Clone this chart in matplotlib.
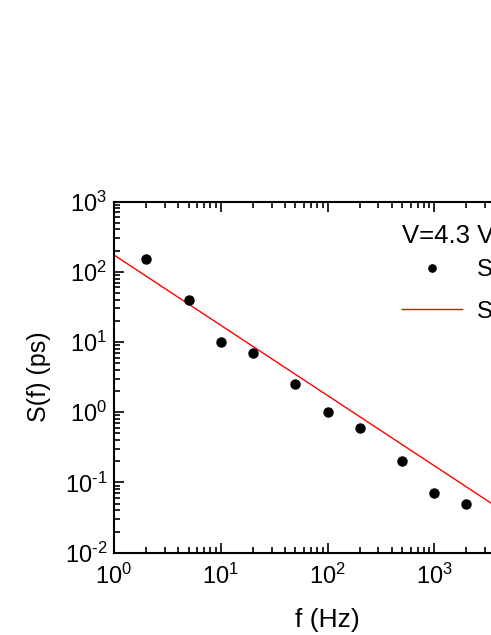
import matplotlib
matplotlib.use("Agg")
import matplotlib.pyplot as plt
import numpy as np
from matplotlib.ticker import LogLocator, NullFormatter, FixedLocator

plt.rcParams['font.family'] = ['Liberation Sans', 'DejaVu Sans']
plt.rcParams['mathtext.fontset'] = 'custom'
plt.rcParams['mathtext.rm'] = 'Liberation Sans'
plt.rcParams['mathtext.it'] = 'Liberation Sans:italic'

# data
freq = [2, 5, 10, 20, 50, 100, 200, 500, 1000, 2000]
spectrum = [150, 40, 10, 7.0, 2.5, 1.0, 0.6, 0.2, 0.07, 0.05]
fit_amp = 173.0
fit_exp = 1.0
fit_range = [1, 1e4]
xticks = [1, 10, 100, 1000, 10000]
xtick_labels = [r'$\mathregular{10^{0}}$', r'$\mathregular{10^{1}}$', r'$\mathregular{10^{2}}$',
                r'$\mathregular{10^{3}}$', r'$\mathregular{10^{4}}$']
yticks = [1e-2, 1e-1, 1, 10, 100, 1000]
ytick_labels = [r'$\mathregular{10^{\text{-}2}}$', r'$\mathregular{10^{\text{-}1}}$', r'$\mathregular{10^{0}}$',
                r'$\mathregular{10^{1}}$', r'$\mathregular{10^{2}}$', r'$\mathregular{10^{3}}$']
legend_title = 'V=4.3 V'
label_data = 'S(f) exp.'
label_fit = r'S(f) ~ 1/f'

fig = plt.figure(figsize=(4.91, 6.35), dpi=100)
ax = fig.add_axes([114/491, 82.3/635, 427/491, 351.2/635])

fx = np.logspace(np.log10(fit_range[0]), np.log10(fit_range[1]), 50)
fy = fit_amp / fx**fit_exp

ax.plot(freq, spectrum, 'o', color='black', markersize=6.5, label=label_data, zorder=3)
ax.plot(fx, fy, '-', color='red', linewidth=1.0, label=label_fit, zorder=2)

ax.set_xscale('log')
ax.set_yscale('log')
ax.set_xlim(1, 1e4)
ax.set_ylim(1e-2, 1e3)

ax.xaxis.set_major_locator(FixedLocator(xticks))
ax.set_xticklabels(xtick_labels)
ax.yaxis.set_major_locator(FixedLocator(yticks))
ax.set_yticklabels(ytick_labels)
ax.xaxis.set_minor_locator(LogLocator(base=10, subs=np.arange(2, 10), numticks=20))
ax.yaxis.set_minor_locator(LogLocator(base=10, subs=np.arange(2, 10), numticks=20))
ax.xaxis.set_minor_formatter(NullFormatter())
ax.yaxis.set_minor_formatter(NullFormatter())

ax.tick_params(which='both', direction='in', top=True, right=True, width=1.2, labelsize=17)
ax.tick_params(which='major', length=7)
ax.tick_params(which='minor', length=4)
ax.tick_params(axis='x', which='major', pad=8)
ax.tick_params(axis='y', which='major', pad=5)
for s in ax.spines.values():
    s.set_linewidth(1.5)

ax.set_xlabel('f (Hz)', fontsize=19, labelpad=14)
ax.set_ylabel('S(f) (ps)', fontsize=18, labelpad=10)

ax.text(0.6745, 0.881, legend_title, transform=ax.transAxes, fontsize=18.5,
        ha='left', va='baseline')
leg = ax.legend(loc='upper left', bbox_to_anchor=(0.6745, 0.835),
                frameon=False, fontsize=17, borderpad=0, borderaxespad=0,
                handlelength=2.52, handletextpad=0.66, labelspacing=0.81, markerscale=0.8)

fig.savefig('out.png', dpi=100)
